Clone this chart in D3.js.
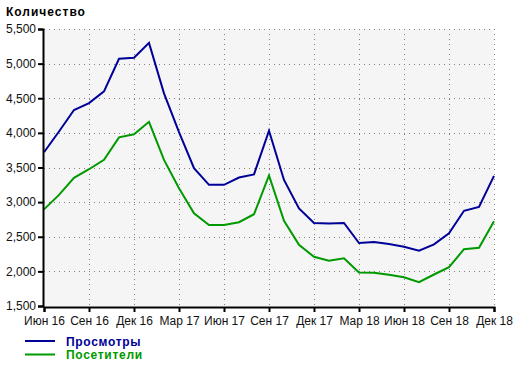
<!DOCTYPE html>
<html>
<head>
<meta charset="utf-8">
<script src="https://cdn.jsdelivr.net/npm/d3@7"></script>
<style>
  body { margin: 0; background: #fff; }
  svg { display: block; font-family: "Liberation Sans", Arial, sans-serif; }
</style>
</head>
<body>
<div id="chart"></div>
<script>
// months Jun 2016 .. Dec 2018
var months = d3.range(31);
var tickMonths = [0, 3, 6, 9, 12, 15, 18, 21, 24, 27, 30];
var tickLabels = ['Июн 16', 'Сен 16', 'Дек 16', 'Мар 17', 'Июн 17', 'Сен 17',
  'Дек 17', 'Мар 18', 'Июн 18', 'Сен 18', 'Дек 18'];
var yTicks = [1500, 2000, 2500, 3000, 3500, 4000, 4500, 5000, 5500];

var views = [3720, 4020, 4330, 4430, 4600, 5070, 5085, 5300, 4570, 4010, 3490,
  3250, 3250, 3355, 3400, 4030, 3320, 2910, 2700, 2690, 2700, 2410, 2425, 2395,
  2355, 2300, 2390, 2550, 2875, 2930, 3380];
var visitors = [2895, 3105, 3350, 3475, 3610, 3935, 3980, 4160, 3610, 3200, 2840,
  2670, 2670, 2710, 2825, 3385, 2730, 2385, 2210, 2155, 2190, 1985, 1980, 1950,
  1915, 1845, 1955, 2060, 2320, 2340, 2725];

var series = [
  {name: 'Просмотры', values: views, color: '#000099'},
  {name: 'Посетители', values: visitors, color: '#009900'}
];

var width = 520, height = 366;
var margin = {top: 29, right: 26, bottom: 60, left: 44};

var svg = d3.select('#chart').append('svg')
  .attr('width', width)
  .attr('height', height);

var x = d3.scaleLinear().domain([0, 30]).range([margin.left, width - margin.right]);
var y = d3.scaleLinear().domain([1500, 5500]).range([height - margin.bottom, margin.top]);

svg.append('rect')
  .attr('x', margin.left)
  .attr('y', margin.top)
  .attr('width', x(30) - x(0))
  .attr('height', y(1500) - y(5500))
  .attr('fill', '#f5f5f5');

// grid
svg.append('g').selectAll('line').data(yTicks.slice(1)).enter().append('line')
  .attr('x1', margin.left).attr('x2', x(30))
  .attr('y1', function (d) { return Math.round(y(d)) + 0.5; })
  .attr('y2', function (d) { return Math.round(y(d)) + 0.5; })
  .attr('stroke', '#808080').attr('stroke-dasharray', '1,4');
svg.append('g').selectAll('line').data(tickMonths.slice(1)).enter().append('line')
  .attr('y1', margin.top).attr('y2', y(1500))
  .attr('x1', function (d) { return Math.round(x(d)) + 0.5; })
  .attr('x2', function (d) { return Math.round(x(d)) + 0.5; })
  .attr('stroke', '#808080').attr('stroke-dasharray', '1,4');

// lines
var line = d3.line()
  .x(function (d, i) { return x(months[i]); })
  .y(function (d) { return y(d); });

series.forEach(function (s) {
  svg.append('path')
    .datum(s.values)
    .attr('d', line)
    .attr('fill', 'none')
    .attr('stroke', s.color)
    .attr('stroke-width', 2)
    .attr('stroke-linejoin', 'miter');
});

// axes
var yAxis = d3.axisLeft(y).tickValues(yTicks).tickFormat(d3.format(',')).tickSize(5).tickPadding(2);
var xAxis = d3.axisBottom(x).tickValues(tickMonths)
  .tickFormat(function (d, i) { return tickLabels[i]; }).tickSize(5).tickPadding(4);

var gy = svg.append('g').attr('transform', 'translate(' + (margin.left - 1) + ',0)').call(yAxis);
var gx = svg.append('g').attr('transform', 'translate(0,' + (height - margin.bottom + 1) + ')').call(xAxis);

[gx, gy].forEach(function (g) {
  g.select('.domain').attr('stroke', '#000').attr('stroke-width', 2);
  g.selectAll('.tick line').attr('stroke', '#000').attr('stroke-width', 2);
  g.selectAll('text').attr('fill', '#111').style('font-size', '12px');
});

// title
svg.append('text')
  .attr('x', 6).attr('y', 16)
  .style('font-size', '12px').style('font-weight', 'bold')
  .style('letter-spacing', '1px')
  .attr('fill', '#000')
  .text('Количество');

// legend
var legend = svg.append('g').selectAll('g').data(series).enter().append('g')
  .attr('transform', function (d, i) { return 'translate(25,' + (341 + i * 13.5) + ')'; });
legend.append('line')
  .attr('x1', 0).attr('x2', 30)
  .attr('stroke', function (d) { return d.color; })
  .attr('stroke-width', 2);
legend.append('text')
  .attr('x', 41).attr('y', 4.5)
  .style('font-size', '12px').style('font-weight', 'bold')
  .style('letter-spacing', '0.7px')
  .attr('fill', function (d) { return d.color; })
  .text(function (d) { return d.name; });
</script>
</body>
</html>
